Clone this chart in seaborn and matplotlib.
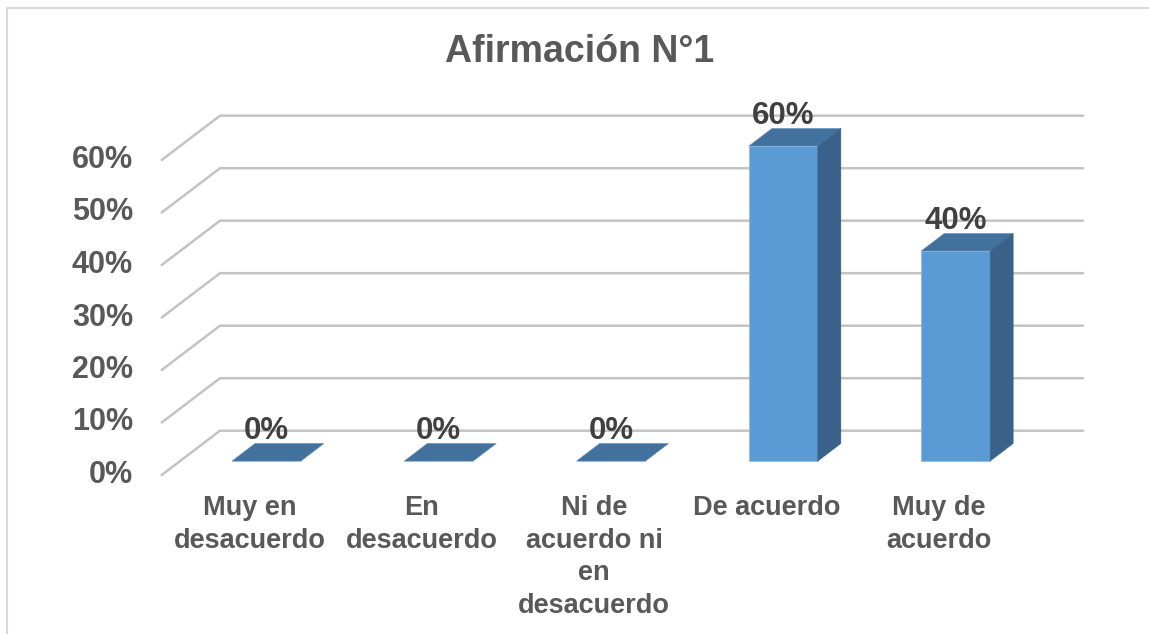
import matplotlib
matplotlib.use("Agg")
import numpy as np
import pandas as pd
import seaborn as sns
import matplotlib.pyplot as plt
from matplotlib.patches import Polygon
from matplotlib.lines import Line2D

# ---------------- data ----------------
categories = ["Muy en\ndesacuerdo", "En\ndesacuerdo", "Ni de\nacuerdo ni\nen\ndesacuerdo",
              "De acuerdo", "Muy de\nacuerdo"]
values = [0.0, 0.0, 0.0, 0.60, 0.40]
value_labels = ["0%", "0%", "0%", "60%", "40%"]
y_ticks = [0.0, 0.1, 0.2, 0.3, 0.4, 0.5, 0.6]
y_tick_labels = ["0%", "10%", "20%", "30%", "40%", "50%", "60%"]
title = "Afirmación N°1"

# ---------------- style ----------------
sns.set_style("white")
plt.rcParams["font.family"] = ["Liberation Sans", "DejaVu Sans"]
plt.rcParams["font.weight"] = "bold"

W, H = 1149, 634
FRONT = "#5B9BD5"
TOP = "#41719C"
SIDE = "#3A6189"
GRID = "#c3c3c3"
TXT = "#595959"
LBL = "#404040"

# pixel geometry of the fake-3D scene
CAT_PX = 172.3       # px between categories
X0_PX = 266.5        # px of first category centre (bar plane)
Y0_PX = 461.0        # px (from top) of value 0 in bar plane
UNIT_PX = 525.0      # px per 100%

fig = plt.figure(figsize=(W / 100, H / 100), dpi=100)
ax = fig.add_axes([0, 0, 1, 1])

df = pd.DataFrame({"cat": categories, "val": values})
sns.barplot(data=df, x="cat", y="val", ax=ax, color=FRONT, saturation=1,
            width=0.4, edgecolor="#8fb6df", linewidth=0.5, zorder=3)

ax.set_xlim(-X0_PX / CAT_PX, (W - X0_PX) / CAT_PX)
ax.set_ylim(-(H - Y0_PX) / UNIT_PX, Y0_PX / UNIT_PX)
ax.set_axis_off()

def px_x(d):
    return d / CAT_PX

def px_y(d):
    return d / UNIT_PX

# ---------- walls / gridlines ----------
back_left = px_x(220 - X0_PX)
right_end = px_x(1083 - X0_PX)
front_x = px_x(161.7 - X0_PX)
back_dy = px_y(30.3)
front_dy = px_y(-14.0)
for v in y_ticks:
    ax.plot([front_x, back_left, right_end], [v + front_dy, v + back_dy, v + back_dy],
            color=GRID, lw=1.8, zorder=1, solid_capstyle="round", solid_joinstyle="round")

# y tick labels at the front ends
tick_right = px_x(133 - X0_PX)
for v, lab in zip(y_ticks, y_tick_labels):
    ax.text(tick_right, v + front_dy, lab, ha="right", va="center", fontsize=22,
            fontweight="bold", color=TXT)

# ---------- 3D faces for bars ----------
ddx = px_x(23)
ddy = px_y(17.5)
bars = list(ax.patches)
for p in bars:
    x0 = p.get_x()
    w = p.get_width()
    h = p.get_height()
    top = Polygon([(x0, h), (x0 + w, h), (x0 + w + ddx, h + ddy), (x0 + ddx, h + ddy)],
                  closed=True, facecolor=TOP, edgecolor="#5f8cba", lw=0.4, zorder=3)
    ax.add_patch(top)
    if h > 0:
        side = Polygon([(x0 + w, 0), (x0 + w + ddx, ddy), (x0 + w + ddx, h + ddy), (x0 + w, h)],
                       closed=True, facecolor=SIDE, edgecolor=SIDE, lw=0.4, zorder=3)
        ax.add_patch(side)

# data labels
for p, lab in zip(bars, value_labels):
    cx = p.get_x() + p.get_width() / 2
    ax.annotate(lab, (cx, p.get_height()), xytext=(0, 30 * 0.72), textcoords="offset points",
                ha="center", va="center", fontsize=22.5, fontweight="bold", color=LBL, zorder=6)

# category labels (front floor)
cat_dx = px_x(-17)
cat_top = -px_y(495 - Y0_PX)
for i, lab in enumerate(categories):
    ax.text(i + cat_dx, cat_top, lab, ha="center", va="top", fontsize=19.5,
            fontweight="bold", color=TXT, linespacing=1.33)

# title
fig.text(580 / W, 1 - 52 / H, title, ha="center", va="center", fontsize=27,
         fontweight="bold", color=TXT)

# chart border (partly cropped)
fig.add_artist(Line2D([7 / W, 7 / W], [0, 1 - 8 / H], transform=fig.transFigure,
                      color="#d9d9d9", lw=1.5))
fig.add_artist(Line2D([7 / W, 1], [1 - 8 / H, 1 - 8 / H], transform=fig.transFigure,
                      color="#d9d9d9", lw=1.5))

fig.savefig("out.png", dpi=100, facecolor="white")
